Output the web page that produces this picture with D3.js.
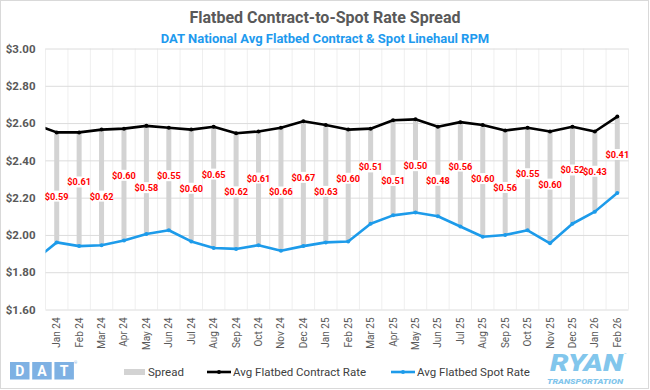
<!DOCTYPE html>
<html><head><meta charset="utf-8">
<script src="https://cdn.jsdelivr.net/npm/d3@7"></script>
<style>
body{margin:0;background:#fff}
svg{display:block}
text{font-family:Roboto,"Open Sans",sans-serif}
</style>
</head><body>
<svg id="c" width="650" height="390"></svg>
<script>
// ---------- data ----------
const months = ["Jan 24","Feb 24","Mar 24","Apr 24","May 24","Jun 24","Jul 24","Aug 24","Sep 24","Oct 24","Nov 24","Dec 24",
  "Jan 25","Feb 25","Mar 25","Apr 25","May 25","Jun 25","Jul 25","Aug 25","Sep 25","Oct 25","Nov 25","Dec 25","Jan 26","Feb 26"];
const contract = [2.55,2.55,2.565,2.57,2.585,2.575,2.565,2.58,2.545,2.555,2.575,2.61,
  2.59,2.565,2.57,2.615,2.62,2.58,2.605,2.59,2.56,2.575,2.555,2.58,2.555,2.635];
const spot = [1.96,1.94,1.945,1.97,2.005,2.025,1.965,1.93,1.925,1.945,1.915,1.94,
  1.96,1.965,2.06,2.105,2.12,2.10,2.045,1.99,2.00,2.025,1.955,2.06,2.125,2.225];
const spreadLabels = ["$0.59","$0.61","$0.62","$0.60","$0.58","$0.55","$0.60","$0.65","$0.62","$0.61","$0.66","$0.67",
  "$0.63","$0.60","$0.51","$0.51","$0.50","$0.48","$0.56","$0.60","$0.56","$0.55","$0.60","$0.52","$0.43","$0.41"];
// Dec 23 values (lead-in segment, clipped at plot edge)
const prevMonth = "Dec 23";
const prevContract = 2.593;
const prevSpot = 1.863;
const yTicks = [1.6,1.8,2.0,2.2,2.4,2.6,2.8,3.0];

// ---------- layout ----------
const labelNudge = [9,-7,9,-9,8,-3,3,-13,1,-10,3,-6,8,-7,-9,13,0,9,-8,-2,5,-5,-3,-5,0,0];
const P = {left:45.5, right:628.5, top:48.5, bottom:309.5};
const BLACK = "#000000", BLUE = "#1D9BEA", GREY = "#D3D3D3", TXT = "#595959";

const svg = d3.select("#c");
svg.append("rect").attr("x",0.5).attr("y",0.5).attr("width",648).attr("height",388)
  .attr("fill","#fff").attr("stroke","#D9D9D9");

const x = d3.scaleBand().domain(months).range([P.left,P.right]);
const bw = x.bandwidth();
const cx = m => x(m) + bw/2;
const y = d3.scaleLinear().domain([1.6,3.0]).range([P.bottom,P.top]);

// titles
svg.append("text").attr("x",325).attr("y",23).attr("text-anchor","middle")
  .attr("font-size",16).attr("font-weight",700).attr("fill",TXT)
  .text("Flatbed Contract-to-Spot Rate Spread");
svg.append("text").attr("x",325).attr("y",43).attr("text-anchor","middle")
  .attr("font-size",13).attr("font-weight",700).attr("fill","#1E9AEE")
  .text("DAT National Avg Flatbed Contract & Spot Linehaul RPM");

// vertical gridlines (band boundaries)
const vb = months.map(m => x(m)).concat([P.right]);
svg.append("g").selectAll("line").data(vb).join("line")
  .attr("x1",d=>d).attr("x2",d=>d).attr("y1",P.top).attr("y2",P.bottom)
  .attr("stroke","#EFEFEF").attr("stroke-width",1);

// horizontal gridlines + y labels
const yAxis = d3.axisLeft(y).tickValues(yTicks).tickSize(-(P.right-P.left)).tickFormat(d=>"$"+d.toFixed(2));
const ga = svg.append("g").attr("transform",`translate(${P.left},0)`).call(yAxis);
ga.select(".domain").remove();
ga.selectAll(".tick line").attr("stroke","#DCDCDC");
ga.selectAll(".tick text").attr("x",-10).attr("font-size",11.5).attr("font-weight",700)
  .attr("fill",TXT).attr("font-family","Roboto,sans-serif");

// x labels
const xAxis = d3.axisBottom(x).tickSize(0);
const gx = svg.append("g").attr("transform",`translate(0,${P.bottom})`).call(xAxis);
gx.select(".domain").remove();
gx.selectAll(".tick text").attr("transform","rotate(-90)").attr("text-anchor","end")
  .attr("x",-8).attr("y",0).attr("dy","0.35em").attr("font-size",10).attr("fill",TXT)
  .attr("font-family","Roboto,sans-serif");

// spread bars
svg.append("g").selectAll("rect").data(months).join("rect")
  .attr("x",(m)=>cx(m)-2.5).attr("width",5)
  .attr("y",(m,i)=>y(contract[i])).attr("height",(m,i)=>y(spot[i])-y(contract[i]))
  .attr("fill",GREY);

// clip
svg.append("clipPath").attr("id","clp").append("rect")
  .attr("x",P.left).attr("y",P.top-10).attr("width",P.right-P.left).attr("height",P.bottom-P.top+20);

function drawSeries(vals, prev, color){
  const pts = [[cx(months[0]) - bw, prev]].concat(months.map((m,i)=>[cx(m), vals[i]]));
  const line = d3.line().x(d=>d[0]).y(d=>y(d[1]));
  const g = svg.append("g").attr("clip-path","url(#clp)");
  g.append("path").attr("d",line(pts)).attr("fill","none").attr("stroke",color)
    .attr("stroke-width",2.6).attr("stroke-linejoin","round");
  g.selectAll("circle").data(pts.slice(1)).join("circle")
    .attr("cx",d=>d[0]).attr("cy",d=>y(d[1])).attr("r",2).attr("fill",color);
}
drawSeries(contract, prevContract, BLACK);
drawSeries(spot, prevSpot, BLUE);

// spread labels
const gl = svg.append("g");
months.forEach((m,i)=>{
  const ly = y((contract[i]+spot[i])/2) + labelNudge[i];
  const t = gl.append("text").attr("x",cx(m)).attr("y",ly).attr("dy","0.35em")
    .attr("text-anchor","middle").attr("font-size",9.2).attr("font-weight",700)
    .attr("fill","#FF0000").text(spreadLabels[i]);
  const bb = t.node().getBBox();
  gl.insert("rect","text").attr("x",cx(m)-10.5).attr("y",bb.y).attr("width",21).attr("height",bb.height)
    .attr("fill","#fff");
});
gl.selectAll("rect").lower();

// legend
const lg = svg.append("g").attr("font-size",11.5).attr("fill","#404040");
lg.append("rect").attr("x",124).attr("y",369).attr("width",21).attr("height",6).attr("fill",GREY);
lg.append("text").attr("x",148).attr("y",376).text("Spread");
lg.append("line").attr("x1",207).attr("x2",231).attr("y1",372).attr("y2",372).attr("stroke",BLACK).attr("stroke-width",2.6);
lg.append("circle").attr("cx",219).attr("cy",372).attr("r",2).attr("fill",BLACK);
lg.append("text").attr("x",233).attr("y",376).text("Avg Flatbed Contract Rate");
lg.append("line").attr("x1",391).attr("x2",415).attr("y1",372).attr("y2",372).attr("stroke",BLUE).attr("stroke-width",2.6);
lg.append("circle").attr("cx",403).attr("cy",372).attr("r",2).attr("fill",BLUE);
lg.append("text").attr("x",417).attr("y",376).text("Avg Flatbed Spot Rate");

// DAT logo
const dat = svg.append("g");
["D","A","T"].forEach((c,i)=>{
  const x0 = 10 + i*22.2;
  dat.append("rect").attr("x",x0).attr("y",362).attr("width",19.5).attr("height",17.5).attr("fill","#7EB1E3");
  dat.append("text").attr("x",x0+9.75).attr("y",375.5).attr("text-anchor","middle")
    .attr("font-size",14).attr("font-weight",700).attr("fill","#fff").text(c);
});
dat.append("text").attr("x",74).attr("y",364).attr("font-size",4).attr("fill","#7EB1E3").text("®");

// RYAN logo
svg.append("text").attr("x",550).attr("y",370.5).attr("font-size",24).attr("font-weight",900)
  .attr("font-style","italic").attr("fill","#82C6EC").attr("textLength",73).attr("lengthAdjust","spacingAndGlyphs").text("RYAN");
svg.append("text").attr("x",547).attr("y",384).attr("font-size",8).attr("font-weight",900)
  .attr("font-style","italic").attr("fill","#82C6EC").attr("textLength",76).attr("lengthAdjust","spacingAndGlyphs").text("TRANSPORTATION");
svg.append("text").attr("x",624).attr("y",356).attr("font-size",4).attr("fill","#82C6EC").text("™");
</script>
</body></html>
